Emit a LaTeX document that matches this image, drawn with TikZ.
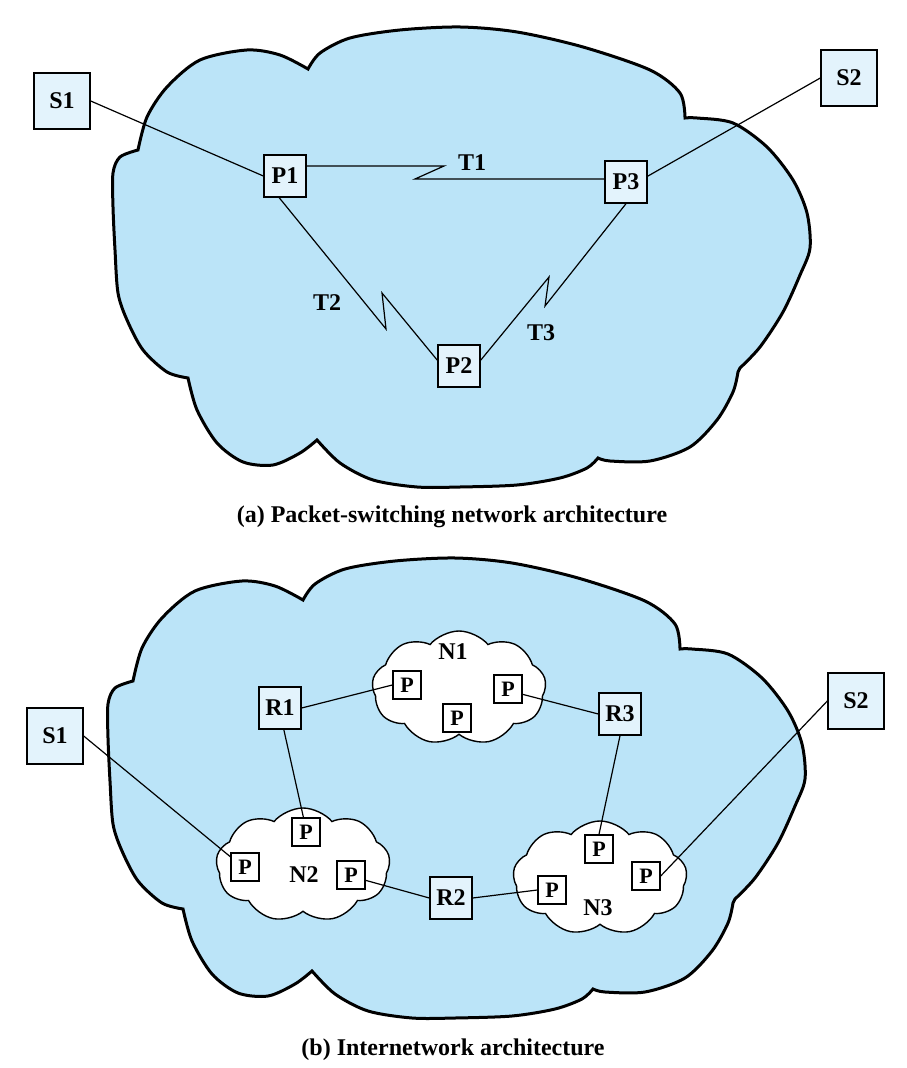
\documentclass[tikz,border=0pt]{standalone}
\usepackage{fontspec}
\setmainfont{Liberation Serif}
\usepackage{tikz}
\usetikzlibrary{shapes.symbols, positioning}

\definecolor{cloudblue}{RGB}{187,228,248}
\definecolor{boxblue}{RGB}{227,243,252}

\begin{document}
\begin{tikzpicture}[x=0.5pt, y=-0.5pt,
  netcloud/.pic={
    \draw[line width=1.5pt, fill=cloudblue]
      plot[smooth] coordinates {(138,150) (147,117) (167,87) (200,60) (247,50) (280,55) (308,69)}
      -- plot[smooth] coordinates {(308,69) (320,53) (350,38) (400,30) (460,27) (517,32) (583,47) (650,70) (680,93) (685,118)}
      -- plot[smooth] coordinates {(685,118) (697,118) (733,123) (767,147) (793,180) (807,213) (810,248) (800,275) (783,312) (760,347) (740,368)}
      -- plot[smooth] coordinates {(738,372) (733,392) (717,420) (690,447) (650,461) (610,461) (598,458)}
      -- plot[smooth] coordinates {(598,458) (587,468) (560,478) (517,485) (460,487) (417,487) (373,480) (340,463) (317,440)}
      -- plot[smooth] coordinates {(317,440) (300,453) (273,465) (243,462) (217,443) (197,410) (188,378)}
      -- plot[smooth] coordinates {(188,378) (167,372) (143,350) (127,320) (118,293) (115,250) (113,207) (113,173) (120,157) (138,150)}
      -- cycle;
  },
  subnet/.style={cloud, cloud puffs=9, cloud puff arc=100, cloud ignores aspect, draw, fill=white, line width=0.7pt, minimum width=87pt, minimum height=57pt, inner sep=0pt},
  hostbox/.style={draw, fill=boxblue, line width=0.7pt, minimum size=28pt, inner sep=0pt, font=\bfseries\fontsize{12}{14}\selectfont},
  nodebox/.style={hostbox, minimum size=21pt},
  pbox/.style={draw, fill=white, line width=0.7pt, minimum size=14pt, inner sep=0pt, font=\bfseries\fontsize{11}{13}\selectfont},
  link/.style={line width=0.6pt},
  lbl/.style={font=\bfseries\fontsize{12}{14}\selectfont},
  caption/.style={font=\bfseries\fontsize{12}{14}\selectfont},
]
\useasboundingbox (0,0) rectangle (906,1068);

% (a) packet-switching network
\pic at (0,0) {netcloud};

\node[hostbox] (s1a) at (62,101) {S1};
\node[hostbox] (s2a) at (849,78) {S2};
\node[nodebox] (p1) at (285,176) {P1};
\node[nodebox] (p2) at (459,366) {P2};
\node[nodebox] (p3) at (626,182) {P3};

\draw[link] (s1a.east) -- (p1.west);
\draw[link] (s2a.west) -- (p3.15);

% trunks with zigzag
\coordinate (t1a) at (444,166);
\coordinate (t1b) at (415,179);
\coordinate (t2a) at (386,329);
\coordinate (t2b) at (382,293);
\coordinate (t3a) at (545,306);
\coordinate (t3b) at (549,277);

\draw[link] (t1a -| p1.east) -- (t1a) -- (t1b) -- (t1b -| p3.west);
\draw[link] (p1.-105) -- (t2a) -- (t2b) -- (p2.165);
\draw[link] (p3.south) -- (t3a) -- (t3b) -- (p2.15);

\node[lbl] (t1) at (472,163) {T1};
\node[lbl] (t2) at (327,303) {T2};
\node[lbl] (t3) at (541,333) {T3};

\node[caption] (capa) at (452,517) {(a) Packet-switching network architecture};

% (b) internetwork
\pic at (-5,531) {netcloud};

\node[subnet] (n1) at (459,688) {};
\node[subnet] (n2) at (303,865) {};
\node[subnet] (n3) at (600,878) {};

\node[lbl] (n1lbl) at (453,652) {N1};
\node[lbl] (n2lbl) at (304,875) {N2};
\node[lbl] (n3lbl) at (598,908) {N3};

\node[pbox] (n1pa) at (407,685) {P};
\node[pbox] (n1pb) at (508,689) {P};
\node[pbox] (n1pc) at (457,718) {P};
\node[pbox] (n2pt) at (306,832) {P};
\node[pbox] (n2pl) at (245,867) {P};
\node[pbox] (n2pr) at (351,875) {P};
\node[pbox] (n3pt) at (599,849) {P};
\node[pbox] (n3pr) at (646,876) {P};
\node[pbox] (n3pl) at (552,890) {P};

\node[hostbox] (s1b) at (55,736) {S1};
\node[hostbox] (s2b) at (856,701) {S2};
\node[nodebox] (r1) at (280,708) {R1};
\node[nodebox] (r2) at (451,898) {R2};
\node[nodebox] (r3) at (620,714) {R3};

\draw[link] (s1b.east) -- (n2pl.145);
\draw[link] (s2b.west) -- (n3pr.east);
\draw[link] (r1.east) -- (n1pa.west);
\draw[link] (n1pb.-20) -- (r3.west);
\draw[link] (r1.-80) -- (n2pt.100);
\draw[link] (r3.south) -- (n3pt.north);
\draw[link] (n2pr.-20) -- (r2.west);
\draw[link] (r2.east) -- (n3pl.west);

\node[caption] (capb) at (453,1050) {(b) Internetwork architecture};
\end{tikzpicture}
\end{document}
